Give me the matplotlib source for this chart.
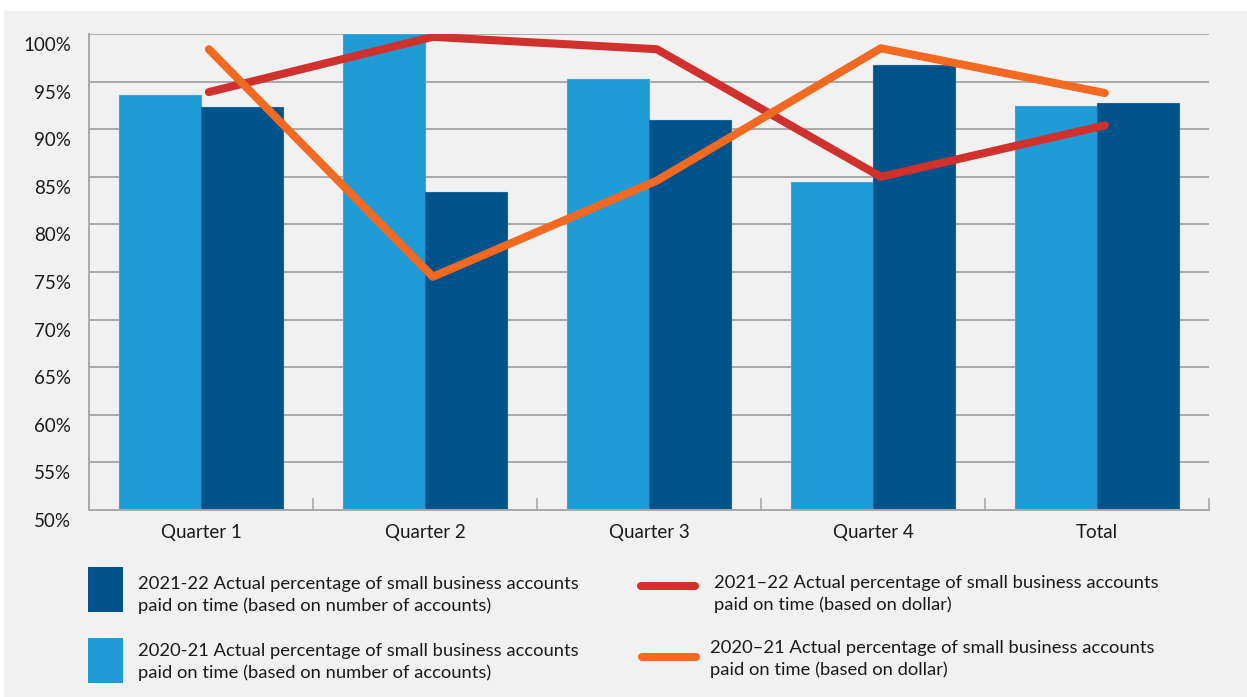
import matplotlib.pyplot as plt
from matplotlib.patches import Rectangle
from matplotlib.lines import Line2D
from matplotlib.transforms import ScaledTranslation
import numpy as np

categories = ["Quarter 1", "Quarter 2", "Quarter 3", "Quarter 4", "Total"]
accounts_2021 = [93.6, 100.0, 95.3, 84.5, 92.4]   # 2020-21, number of accounts
accounts_2122 = [92.3, 83.4, 91.0, 96.7, 92.8]    # 2021-22, number of accounts
dollar_2122 = [93.9, 99.7, 98.4, 85.0, 90.4]      # 2021-22, dollar
dollar_2021 = [98.4, 74.5, 84.6, 98.5, 93.8]      # 2020-21, dollar
yticks = list(range(50, 101, 5))

LIGHT = "#1f9bd7"
DARK = "#00528a"
RED = "#d0312d"
ORANGE = "#f26a21"
BG = "#f1f1f1"
GRID = "#a9a9a9"

plt.rcParams['font.family'] = ['Lato', 'DejaVu Sans']

fig = plt.figure(figsize=(12.47, 6.97), dpi=100, facecolor="white")
fig.patches.append(Rectangle((4 / 1247, 0), 1, 686 / 697, transform=fig.transFigure,
                             facecolor=BG, edgecolor="none", zorder=-10))

ax = fig.add_axes([89 / 1247, 1 - 510 / 697, 1120 / 1247, 476 / 697])
ax.set_facecolor(BG)

x = np.arange(len(categories))
w = 0.366
ax.bar(x - w / 2, accounts_2021, w, bottom=0, color=LIGHT, edgecolor="#3aa8dc", linewidth=0.8, zorder=2)
ax.bar(x + w / 2, accounts_2122, w, bottom=0, color=DARK, edgecolor="#1c669a", linewidth=0.8, zorder=2)

xl = x + 0.035
ax.plot(xl, dollar_2122, color=RED, lw=5.8, solid_capstyle="round", solid_joinstyle="round", zorder=3)
ax.plot(xl, dollar_2021, color=ORANGE, lw=5.8, solid_capstyle="round", solid_joinstyle="round", zorder=4)

ax.set_xlim(-0.5, len(categories) - 0.5)
ax.set_ylim(50, 100)
ax.set_yticks(yticks)
ax.set_yticklabels([f"{v}%" for v in yticks], fontsize=13.5, color="#1a1a1a")
ax.set_xticks(x)
ax.set_xticklabels(categories, fontsize=13.5, color="#1a1a1a")
ax.set_xticks(np.arange(-0.5, len(categories), 1), minor=True)
ax.tick_params(axis="x", which="major", length=0, pad=10)
ax.tick_params(axis="x", which="minor", direction="in", length=9, color=GRID, width=1.2)
ax.tick_params(axis="y", length=0, pad=13)
# y labels sit a little below their gridlines in the original
shift = ScaledTranslation(0, -0.10, fig.dpi_scale_trans)
for lab in ax.get_yticklabels():
    lab.set_transform(lab.get_transform() + shift)

ax.grid(axis="y", color=GRID, lw=1.4, zorder=0)
ax.set_axisbelow(True)
for s in ["top", "right"]:
    ax.spines[s].set_visible(False)
for s in ["left", "bottom"]:
    ax.spines[s].set_color(GRID)
    ax.spines[s].set_linewidth(1.4)

# legend, laid out by hand
def fx(px):
    return px / 1247

def fy(py):
    return 1 - py / 697

txt = dict(fontsize=13.2, color="#1a1a1a", va="center", ha="left", linespacing=1.45)
fig.patches.append(Rectangle((fx(88), fy(612)), fx(35), 45 / 697, transform=fig.transFigure,
                             facecolor=DARK, edgecolor="none"))
fig.text(fx(138), fy(595), "2021-22 Actual percentage of small business accounts\npaid on time (based on number of accounts)", **txt)
fig.patches.append(Rectangle((fx(88), fy(683)), fx(35), 45 / 697, transform=fig.transFigure,
                             facecolor=LIGHT, edgecolor="none"))
fig.text(fx(138), fy(662), "2020-21 Actual percentage of small business accounts\npaid on time (based on number of accounts)", **txt)

fig.lines.append(Line2D([fx(641), fx(695)], [fy(586), fy(586)], transform=fig.transFigure,
                        color=RED, lw=5.8, solid_capstyle="round"))
fig.text(fx(714), fy(594), "2021\u201322 Actual percentage of small business accounts\npaid on time (based on dollar)", **txt)
fig.lines.append(Line2D([fx(642), fx(696)], [fy(657), fy(657)], transform=fig.transFigure,
                        color=ORANGE, lw=5.8, solid_capstyle="round"))
fig.text(fx(710), fy(659), "2020\u201321 Actual percentage of small business accounts\npaid on time (based on dollar)", **txt)

fig.savefig("out.png", dpi=100, facecolor="white")
